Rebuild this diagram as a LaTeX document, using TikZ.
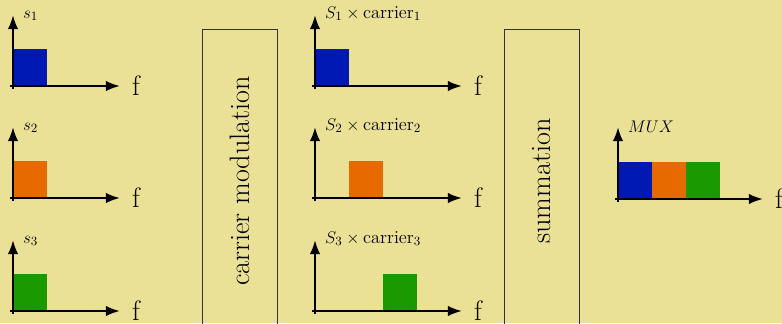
\documentclass[tikz,border=0pt]{standalone}
\usepackage{amsmath}
\usepackage{xcolor}
\usepackage{tikz}
\usetikzlibrary{arrows.meta}

\definecolor{bgkhaki}{RGB}{234,224,150}
\definecolor{sigblue}{RGB}{0,25,180}
\definecolor{sigorange}{RGB}{230,106,0}
\definecolor{siggreen}{RGB}{26,153,0}

\begin{document}
\begin{tikzpicture}[
	axis/.style={-{Latex[length=10pt,width=7.5pt]},line width=1.7pt},
	stage/.style={draw=black!80,line width=0.6pt,rotate=90,
		minimum width=7.6cm,minimum height=1.875cm,
		font=\fontsize{20}{24}\selectfont},
	flabel/.style={anchor=west,xshift=0.2cm,inner sep=2pt,
		font=\fontsize{20}{24}\selectfont},
	siglabel/.style={anchor=south west,xshift=0.19cm,yshift=-0.21cm,
		inner sep=1pt,font=\fontsize{13}{15}\selectfont}]
	\fill[bgkhaki] (0,0) rectangle (19.55,8.075);
	\clip (0,0) rectangle (19.55,8.075);
	%
	\foreach \i/\col/\y in {1/sigblue/5.925,2/sigorange/3.125,3/siggreen/0.3}{
		% input spectra
		\fill[\col] (0.325,\y) rectangle ++(0.85,0.925);
		\draw[axis] (0.25,\y) -- (3.0,\y) node[flabel] (fin\i) {f};
		\draw[axis] (0.325,\y-0.075) -- (0.325,\y+1.775)
			node[siglabel] (sin\i) {$s_\i$};
		% modulated spectra
		\fill[\col] (7.025+0.85*\i,\y) rectangle ++(0.85,0.925);
		\draw[axis] (7.8,\y) -- (11.55,\y) node[flabel] (fmod\i) {f};
		\draw[axis] (7.875,\y-0.075) -- (7.875,\y+1.775)
			node[siglabel] (smod\i) {$S_\i\times\text{carrier}_\i$};
		% multiplexed spectrum
		\fill[\col] (14.6+0.85*\i,3.1) rectangle ++(0.85,0.925);
	}
	%
	\draw[axis] (15.375,3.1) -- (19.075,3.1) node[flabel] (fmux) {f};
	\draw[axis] (15.45,3.025) -- (15.45,4.9) node[siglabel] (smux) {$MUX$};
	%
	\node[stage] (modbox) at (5.994,3.55) {carrier modulation};
	\node[stage] (sumbox) at (13.55,3.55) {summation};
\end{tikzpicture}
\end{document}
